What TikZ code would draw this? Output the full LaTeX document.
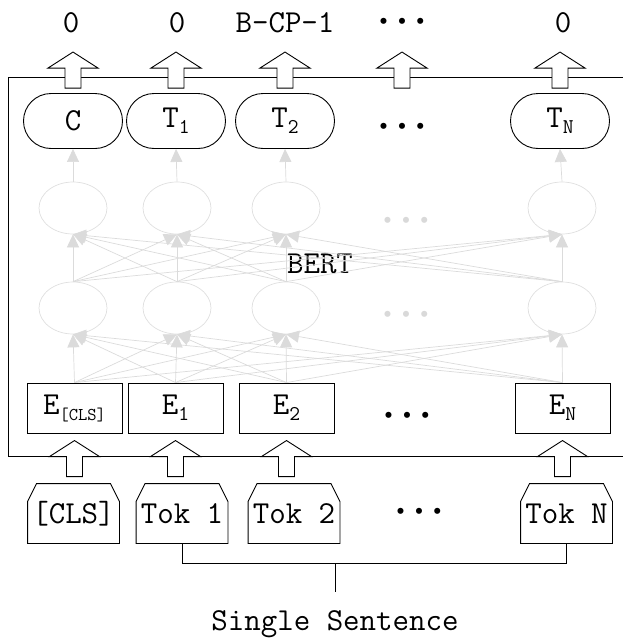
\documentclass[tikz,border=0pt]{standalone}
\usepackage{tikz}
\usetikzlibrary{calc,shapes.geometric,shapes.misc,arrows.meta}

\newcommand{\idx}[1]{\raisebox{-6pt}{\fontsize{21}{21}\selectfont #1}}
\newcommand{\dotrow}{\textbullet\hspace{-1pt}\textbullet\hspace{-1pt}\textbullet}
\newcommand{\upblock}[1]{\draw[fill=white] ($(#1)+(-8,0)$) -- ++(0,-20) -- ++(-17,0)
  -- ++(25,-16) -- ++(25,16) -- ++(-17,0) -- ++(0,20) -- cycle;}
\newcommand{\tokshape}[1]{\draw (#1.south west) -- ($(#1.north west)+(0,18)$)
  -- ($(#1.north west)+(9,0)$) -- ($(#1.north east)+(-9,0)$)
  -- ($(#1.north east)+(0,18)$) -- (#1.south east) -- cycle;}

\begin{document}
\begin{tikzpicture}[x=1pt,y=-1pt,line width=0.9pt,
  every node/.style={font=\fontsize{32}{32}\selectfont\ttfamily},
  pill/.style={draw,rounded rectangle,minimum width=99pt,minimum height=55pt,inner sep=0pt},
  cell/.style={draw=gray!25,line width=0.7pt,ellipse,minimum width=68pt,minimum height=52pt},
  emb/.style={draw,rectangle,minimum width=95pt,minimum height=50pt,inner sep=0pt},
  tok/.style={minimum width=91pt,minimum height=59pt,inner sep=0pt},
  dotsnode/.style={font=\fontsize{27}{27}\selectfont\rmfamily,inner sep=0pt},
  link/.style={draw=gray!28,line width=0.7pt,-{Triangle[length=13pt,width=12pt]}}]
\useasboundingbox (0,0) rectangle (623,640);

\node (o1) at (71,23) {0};
\node (o2) at (177,23) {0};
\node (o3) at (285,23) {B-CP-1};
\node[dotsnode] (o4) at (402,23) {\dotrow};
\node (o5) at (563,23) {0};

\node[pill] (p1) at (73,121) {C};
\node[pill] (p2) at (176,121) {T\idx{1}};
\node[pill] (p3) at (285,121) {T\idx{2}};
\node[dotsnode] (p0) at (402,128) {\dotrow};
\node[pill] (p4) at (560,121) {T\idx{N}};

\foreach \x/\n in {73/1,177/2,286/3,562/4}{
  \node[cell] (u\n) at (\x,208) {};
  \node[cell] (l\n) at (\x,308) {};
}
\node[dotsnode,text=gray!30] (du) at (406,222) {\dotrow};
\node[dotsnode,text=gray!30] (dl) at (406,316) {\dotrow};
\node (bert) at (320,264) {BERT};

\node[emb] (e1) at (74.5,408) {E\idx{\fontsize{18}{18}\selectfont[CLS]}};
\node[emb] (e2) at (175.5,408) {E\idx{1}};
\node[emb] (e3) at (286.5,408) {E\idx{2}};
\node[dotsnode] (e0) at (407,417) {\dotrow};
\node[emb] (e4) at (562.5,408) {E\idx{N}};

\foreach \i in {1,...,4}{
  \draw[link] (u\i.north) -- (p\i.south);
  \foreach \j in {1,...,4}{
    \draw[link] (l\i.north) -- (u\j.south);
    \draw[link] (e\i.north) -- (l\j.south);
  }
}

\node[tok] (t1) at (73.5,513.5) {[CLS]};
\node[tok] (t2) at (182,513.5) {Tok 1};
\node[tok] (t3) at (294,513.5) {Tok 2};
\node[dotsnode] (t0) at (419,513) {\dotrow};
\node[tok] (t4) at (566.5,513.5) {Tok N};
\foreach \i in {1,...,4}{
  \tokshape{t\i}
}

\draw (623,77) -| (8,456) -- (623,456);
\foreach \p in {p1,p2,p3,p4}{
  \upblock{$(\p.north)+(0,-5)$}
}
\upblock{$(o4 |- p1.north)+(0,-5)$}
\foreach \i in {1,...,4}{
  \upblock{$(e\i.south |- t\i.north)+(0,-7)$}
}

\node (sent) at (335,624) {Single Sentence};
\coordinate (bar) at (0,563);
\draw (t2.south) -- (t2.south |- bar) -- (t4.south |- bar) -- (t4.south);
\draw ($(sent.north)+(0,-15)$) -- (sent.north |- bar);
\end{tikzpicture}
\end{document}
